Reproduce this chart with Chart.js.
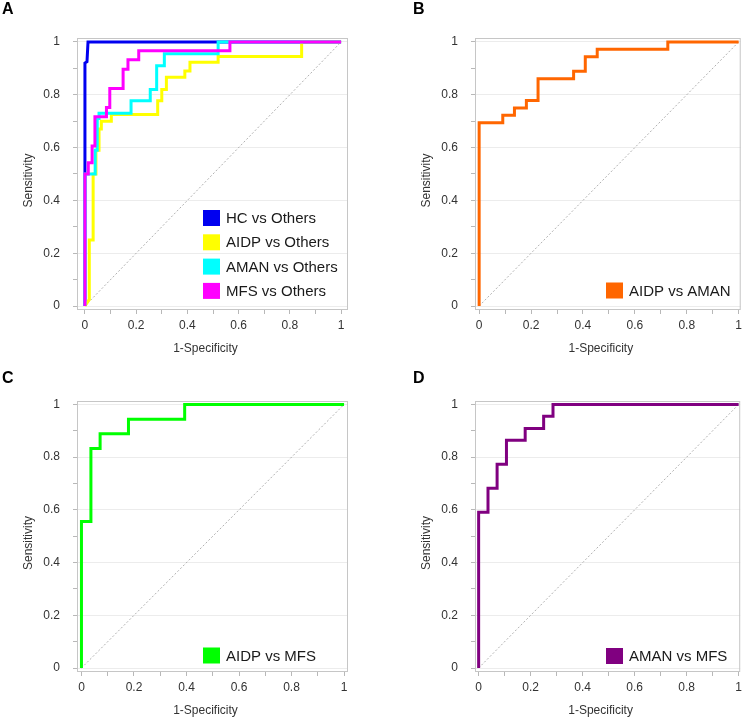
<!DOCTYPE html>
<html>
<head>
<meta charset="utf-8">
<title>ROC curves</title>
<script src="https://cdn.jsdelivr.net/npm/chart.js@4.4.1/dist/chart.umd.min.js"></script>
<style>
  html, body { margin: 0; padding: 0; background: #fff; }
  #wrap { position: relative; width: 746px; height: 718px; overflow: hidden; }
  .panel { position: absolute; width: 373px; height: 359px; }
  .panel canvas { position: absolute; left: 0; top: 0; }
  .letter { position: absolute; font: bold 16px "Liberation Sans", Arial, sans-serif; line-height: 16px; color: #000; }
</style>
</head>
<body>
<div id="wrap">
  <div class="panel" style="left:0;top:0"><canvas id="chart-a" width="373" height="359"></canvas><div class="letter" style="left:2px;top:1px">A</div></div>
  <div class="panel" style="left:373px;top:0"><canvas id="chart-b" width="373" height="359"></canvas><div class="letter" style="left:40px;top:1px">B</div></div>
  <div class="panel" style="left:0;top:359px"><canvas id="chart-c" width="373" height="359"></canvas><div class="letter" style="left:2px;top:11px">C</div></div>
  <div class="panel" style="left:373px;top:359px"><canvas id="chart-d" width="373" height="359"></canvas><div class="letter" style="left:40px;top:11px">D</div></div>
</div>
<script>
// ROC panels A-D — step curves

// ============= Data =============

const tickValues = [0, 0.1, 0.2, 0.3, 0.4, 0.5, 0.6, 0.7, 0.8, 0.9, 1];
const tickLabels = ["0", "", "0.2", "", "0.4", "", "0.6", "", "0.8", "", "1"];

const xTitle = "1-Specificity";
const yTitle = "Sensitivity";

// chance line
const refFpr = [0, 1];
const refTpr = [0, 1];

// A
const hcFpr = [0, 0, 0.008, 0.012, 1];
const hcTpr = [0, 0.92, 0.925, 1, 1];

const aidpFpr = [0, 0.017, 0.017, 0.032, 0.032, 0.043, 0.043, 0.055, 0.055, 0.064, 0.064, 0.103, 0.103, 0.284, 0.284, 0.3, 0.3, 0.318, 0.318, 0.39, 0.39, 0.41, 0.41, 0.52, 0.52, 0.846, 0.846, 1];
const aidpTpr = [0, 0.025, 0.25, 0.25, 0.5, 0.5, 0.59, 0.59, 0.67, 0.67, 0.7, 0.7, 0.725, 0.725, 0.777, 0.777, 0.82, 0.82, 0.866, 0.866, 0.89, 0.89, 0.923, 0.923, 0.945, 0.945, 1, 1];

const amanFpr = [0, 0, 0.04, 0.04, 0.048, 0.048, 0.055, 0.055, 0.18, 0.18, 0.255, 0.255, 0.28, 0.28, 0.31, 0.31, 0.52, 0.52, 1];
const amanTpr = [0, 0.5, 0.5, 0.59, 0.59, 0.71, 0.71, 0.73, 0.73, 0.777, 0.777, 0.82, 0.82, 0.91, 0.91, 0.955, 0.955, 1, 1];

const mfsFpr = [0, 0, 0.013, 0.013, 0.028, 0.028, 0.039, 0.039, 0.084, 0.084, 0.097, 0.097, 0.149, 0.149, 0.168, 0.168, 0.21, 0.21, 0.566, 0.566, 1];
const mfsTpr = [0, 0.5, 0.5, 0.543, 0.543, 0.606, 0.606, 0.717, 0.717, 0.752, 0.752, 0.824, 0.824, 0.897, 0.897, 0.933, 0.933, 0.967, 0.967, 1, 1];

// B
const aidpAmanFpr = [0, 0, 0.091, 0.091, 0.136, 0.136, 0.182, 0.182, 0.227, 0.227, 0.364, 0.364, 0.409, 0.409, 0.455, 0.455, 0.727, 0.727, 1];
const aidpAmanTpr = [0, 0.694, 0.694, 0.722, 0.722, 0.75, 0.75, 0.778, 0.778, 0.861, 0.861, 0.889, 0.889, 0.944, 0.944, 0.972, 0.972, 1, 1];

// C
const aidpMfsFpr = [0, 0, 0.036, 0.036, 0.071, 0.071, 0.179, 0.179, 0.393, 0.393, 1];
const aidpMfsTpr = [0, 0.556, 0.556, 0.833, 0.833, 0.889, 0.889, 0.944, 0.944, 1, 1];

// D
const amanMfsFpr = [0, 0, 0.036, 0.036, 0.071, 0.071, 0.107, 0.107, 0.179, 0.179, 0.25, 0.25, 0.286, 0.286, 1];
const amanMfsTpr = [0, 0.591, 0.591, 0.682, 0.682, 0.773, 0.773, 0.864, 0.864, 0.909, 0.909, 0.955, 0.955, 1, 1];

// ============= Layout per panel =============

const FONT = "'Liberation Sans', Arial, sans-serif";

const panels = [
  {
    id: "chart-a",
    curves: [
      { label: "HC vs Others", fpr: hcFpr, tpr: hcTpr, color: "#0000f0" },
      { label: "AIDP vs Others", fpr: aidpFpr, tpr: aidpTpr, color: "#ffff00" },
      { label: "AMAN vs Others", fpr: amanFpr, tpr: amanTpr, color: "#00ffff" },
      { label: "MFS vs Others", fpr: mfsFpr, tpr: mfsTpr, color: "#ff00ff" },
    ],
    area: { left: 77, right: 348, top: 38, bottom: 310 },
    xr: [-0.031, 1.027], yr: [-0.015, 1.015],
    legend: { x: 203, y: 218 },
  },
  {
    id: "chart-b",
    curves: [{ label: "AIDP vs AMAN", fpr: aidpAmanFpr, tpr: aidpAmanTpr, color: "#ff6600" }],
    area: { left: 102, right: 371, top: 38, bottom: 310 },
    xr: [-0.016, 1.008], yr: [-0.015, 1.015],
    legend: { x: 233, y: 290.5 },
  },
  {
    id: "chart-c",
    curves: [{ label: "AIDP vs MFS", fpr: aidpMfsFpr, tpr: aidpMfsTpr, color: "#00ff00" }],
    area: { left: 77, right: 348, top: 42, bottom: 313 },
    xr: [-0.017, 1.015], yr: [-0.015, 1.013],
    legend: { x: 203, y: 296.5 },
  },
  {
    id: "chart-d",
    curves: [{ label: "AMAN vs MFS", fpr: amanMfsFpr, tpr: amanMfsTpr, color: "#800080" }],
    area: { left: 102, right: 370, top: 42, bottom: 313 },
    xr: [-0.014, 1.006], yr: [-0.015, 1.013],
    legend: { x: 233, y: 297 },
  },
];

// ============= Helpers =============

const toPoints = (fpr, tpr) => fpr.map((x, i) => ({ x, y: tpr[i] }));

const framePlugin = {
  id: "frame",
  beforeDatasetsDraw(chart) {
    const { ctx, chartArea: a } = chart;
    ctx.save();
    ctx.strokeStyle = "#c6c6c6";
    ctx.lineWidth = 1;
    ctx.strokeRect(a.left + 0.5, a.top + 0.5, a.right - a.left - 1, a.bottom - a.top - 1);
    ctx.restore();
  },
};

function legendPlugin(p) {
  return {
    id: "insideLegend",
    afterDraw(chart) {
      const ctx = chart.ctx;
      const items = chart.data.datasets.filter((d) => !d.isRef);
      ctx.save();
      ctx.font = `15px ${FONT}`;
      ctx.textBaseline = "middle";
      ctx.textAlign = "left";
      items.forEach((d, i) => {
        const cy = p.legend.y + i * 24.3;
        ctx.fillStyle = d.borderColor;
        ctx.fillRect(p.legend.x, cy - 8, 17, 16);
        ctx.fillStyle = "#1a1a1a";
        ctx.fillText(d.label, p.legend.x + 23, cy + 1);
      });
      ctx.restore();
    },
  };
}

const titlePlugin = {
  id: "axisTitles",
  afterDraw(chart) {
    const { ctx, chartArea: a } = chart;
    ctx.save();
    ctx.font = `12px ${FONT}`;
    ctx.fillStyle = "#333";
    ctx.textAlign = "center";
    ctx.textBaseline = "middle";
    ctx.fillText(xTitle, (a.left + a.right) / 2 - 7, a.bottom + 39);
    ctx.translate(a.left - 48, (a.top + a.bottom) / 2 + 6.5);
    ctx.rotate(-Math.PI / 2);
    ctx.fillText(yTitle, 0, 0);
    ctx.restore();
  },
};

function axis(range, horizontal, p) {
  return {
    type: "linear",
    min: range[0],
    max: range[1],
    afterBuildTicks: (s) => {
      s.ticks = tickValues.map((v) => ({ value: v }));
    },
    afterFit: (s) => {
      if (horizontal) s.height = 359 - p.area.bottom;
      else s.width = p.area.left;
    },
    border: { display: false },
    grid: {
      drawOnChartArea: !horizontal,
      color: (c) => (tickLabels[c.index] ? "#ececec" : "rgba(0,0,0,0)"),
      tickColor: "#b8b8b8",
      tickLength: 4,
    },
    ticks: {
      autoSkip: false,
      maxRotation: 0,
      padding: horizontal ? 4 : 13,
      color: "#333",
      font: { family: FONT, size: 12 },
      callback: (v, i) => tickLabels[i],
    },
  };
}

// ============= Build =============

function buildPanel(p) {
  const n = p.curves.length;
  const datasets = [
    {
      label: "ref",
      isRef: true,
      data: toPoints(refFpr, refTpr),
      showLine: true,
      borderColor: "#b0b0b0",
      borderWidth: 1,
      borderDash: [2, 2],
      pointRadius: 0,
      order: 100,
    },
    ...p.curves.map((c, i) => ({
      label: c.label,
      data: toPoints(c.fpr, c.tpr),
      showLine: true,
      borderColor: c.color,
      backgroundColor: c.color,
      borderWidth: 3,
      pointRadius: 0,
      tension: 0,
      order: n - i,
    })),
  ];

  return new Chart(document.getElementById(p.id), {
    type: "scatter",
    data: { datasets },
    options: {
      responsive: false,
      animation: false,
      events: [],
      layout: {
        padding: { left: 0, top: p.area.top, right: 373 - p.area.right, bottom: 0 },
      },
      plugins: { legend: { display: false }, tooltip: { enabled: false } },
      scales: {
        x: axis(p.xr, true, p),
        y: axis(p.yr, false, p),
      },
    },
    plugins: [framePlugin, legendPlugin(p), titlePlugin],
  });
}

panels.forEach(buildPanel);
</script>
</body>
</html>
